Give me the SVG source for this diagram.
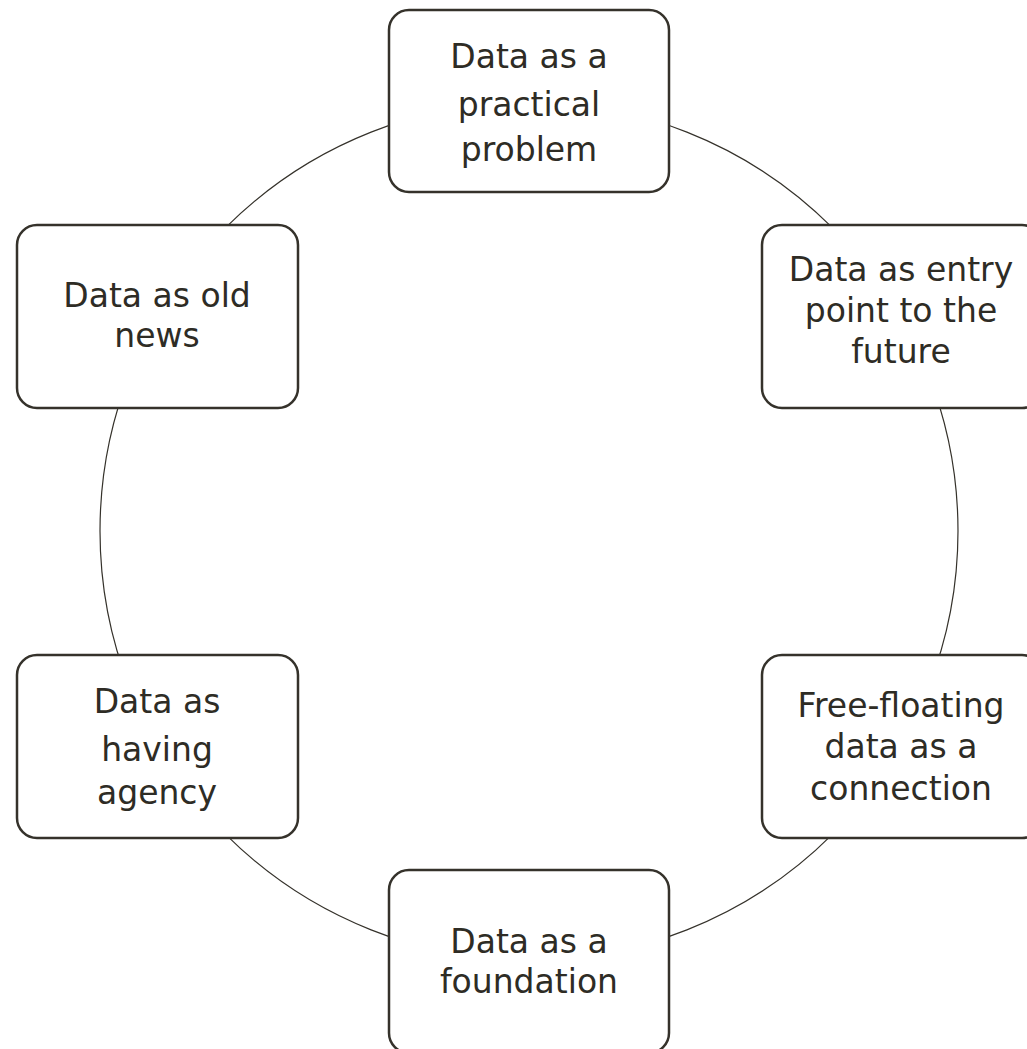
<svg xmlns="http://www.w3.org/2000/svg" width="1027" height="1049" viewBox="0 0 1027 1049">
<style>
.box{fill:#ffffff;stroke:#35322b;stroke-width:2.5}
.lbl{font-family:"DejaVu Sans",Lato,sans-serif;font-size:33px;fill:#2e2c25;text-anchor:middle}
.ring{fill:none;stroke:#35322b;stroke-width:1.2}
</style>
<rect width="1027" height="1049" fill="#ffffff"/>
<g id="connectors">
<circle class="ring" cx="529" cy="531" r="429"/>
</g>
<g id="n1">
<rect class="box" x="389" y="10" width="280" height="182" rx="20"/>
<text class="lbl" x="529" y="68">Data as a</text>
<text class="lbl" x="529" y="116">practical</text>
<text class="lbl" x="529" y="161">problem</text>
</g>
<g id="n2">
<rect class="box" x="762" y="225" width="280" height="183" rx="20"/>
<text class="lbl" x="901" y="281">Data as entry</text>
<text class="lbl" x="901" y="322">point to the</text>
<text class="lbl" x="901" y="363">future</text>
</g>
<g id="n3">
<rect class="box" x="762" y="655" width="280" height="183" rx="20"/>
<text class="lbl" x="901" y="717">Free-floating</text>
<text class="lbl" x="901" y="758">data as a</text>
<text class="lbl" x="901" y="800">connection</text>
</g>
<g id="n4">
<rect class="box" x="389" y="870" width="280" height="183" rx="20"/>
<text class="lbl" x="529" y="953">Data as a</text>
<text class="lbl" x="529" y="993">foundation</text>
</g>
<g id="n5">
<rect class="box" x="17" y="655" width="281" height="183" rx="20"/>
<text class="lbl" x="157" y="713">Data as</text>
<text class="lbl" x="157" y="761">having</text>
<text class="lbl" x="157" y="804">agency</text>
</g>
<g id="n6">
<rect class="box" x="17" y="225" width="281" height="183" rx="20"/>
<text class="lbl" x="157" y="307">Data as old</text>
<text class="lbl" x="157" y="347">news</text>
</g>
</svg>
